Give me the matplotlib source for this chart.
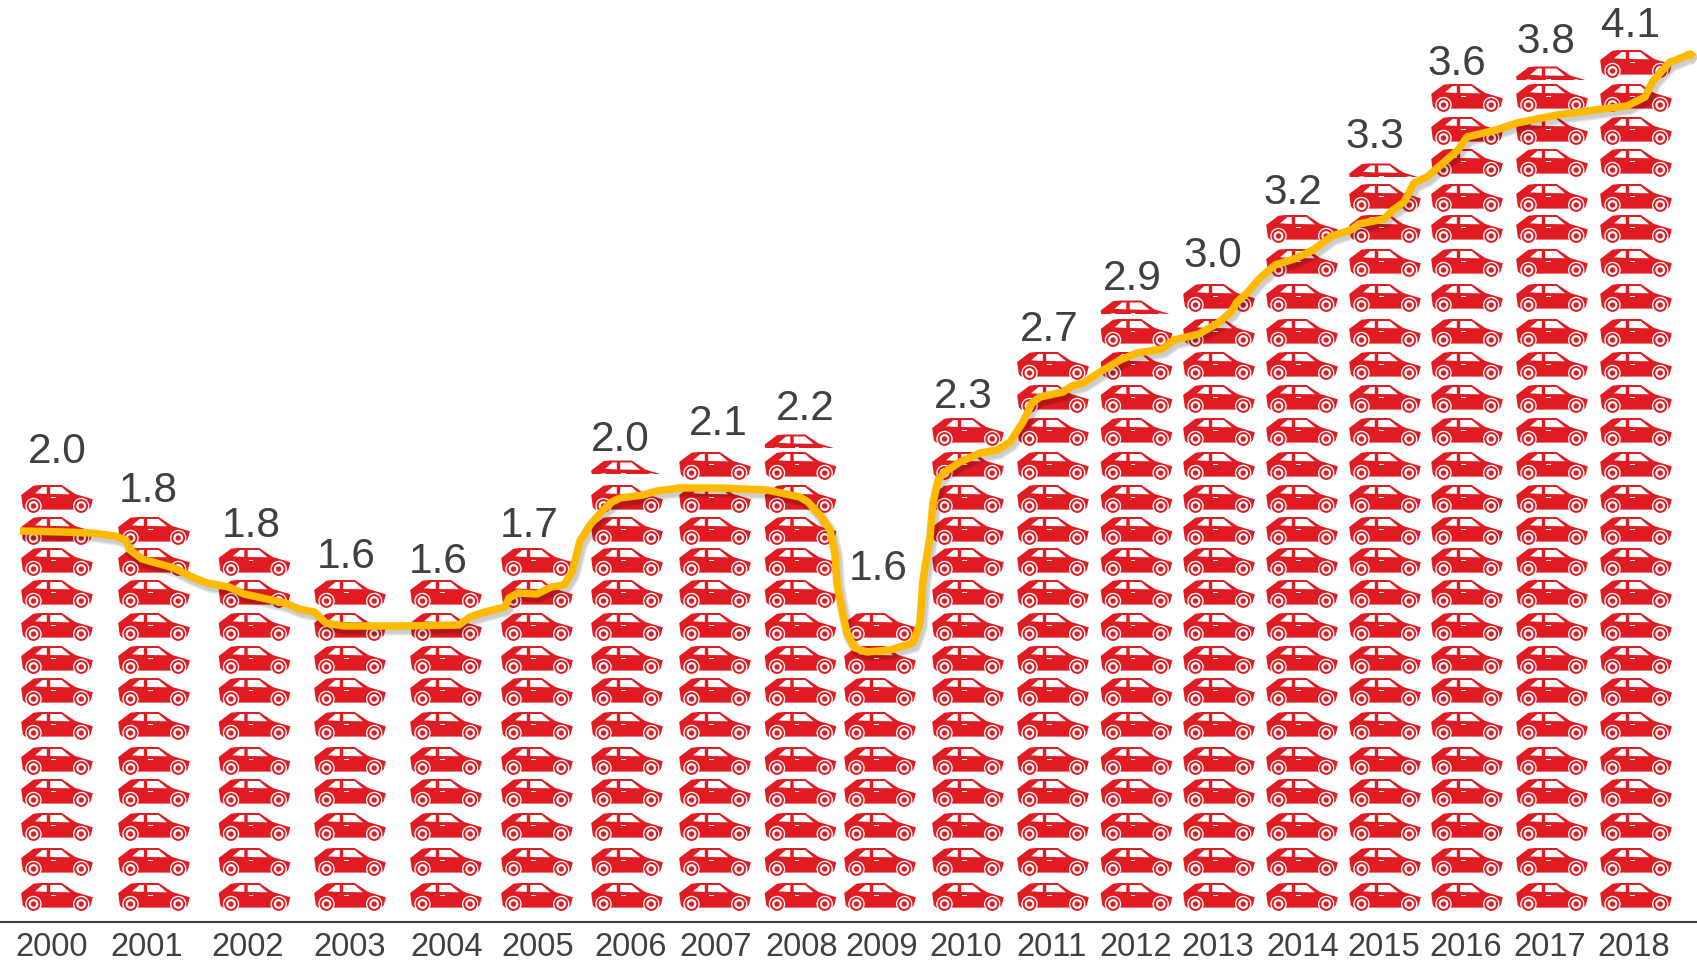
import matplotlib
matplotlib.use("Agg")
import matplotlib.pyplot as plt
import matplotlib.patheffects as pe
from matplotlib.patches import PathPatch, Rectangle
from matplotlib.path import Path
from matplotlib.transforms import Affine2D

plt.rcParams['font.family'] = ['Liberation Sans', 'DejaVu Sans']

# y axis runs downward from the top of the canvas, x axis from the left
years = [2000, 2001, 2002, 2003, 2004, 2005, 2006, 2007, 2008, 2009,
         2010, 2011, 2012, 2013, 2014, 2015, 2016, 2017, 2018]
values = ["2.0", "1.8", "1.8", "1.6", "1.6", "1.7", "2.0", "2.1", "2.2", "1.6",
          "2.3", "2.7", "2.9", "3.0", "3.2", "3.3", "3.6", "3.8", "4.1"]
# cars in each stack, .5 means a cut-off car on top
car_counts = [13, 12, 11, 10, 10, 11, 13.5, 14, 14.5, 9,
              15, 17, 18.5, 19, 21, 22.5, 25, 25.5, 26]
stack_x = [57, 154, 254.5, 350, 446, 537, 627, 715, 800.5, 880,
           968, 1053, 1136.5, 1219, 1302, 1385, 1467, 1552, 1636]
tick_x = [52, 147, 248, 350, 447, 538, 631, 716, 802, 882,
          966, 1052, 1136, 1218, 1303, 1384, 1466, 1550, 1634]
label_x = [57, 148, 251, 346, 438, 529, 620, 718, 805, 878,
           963, 1049, 1132, 1213, 1293, 1375, 1457, 1546, 1630]
label_y = [463, 502, 537, 568, 573, 537, 451, 435, 420, 580,
           408, 341, 290, 267, 204, 148, 75, 53, 37]
# top edge of each row of cars, bottom row first
row_top = [883, 848, 813, 779, 747, 712, 678, 646, 613, 580, 548, 517, 485,
           452, 418, 385, 352, 319, 284, 249, 215, 184, 149, 117, 84, 50]
partial_gap = {2006: 11, 2008: 4, 2012: 5, 2015: 7, 2017: 4}

line_x = [20, 63, 92, 115, 126, 130, 142, 174, 192, 207, 229, 244, 285, 299, 314,
          326, 344, 400, 459, 470, 485, 505, 509, 518, 537, 551, 564, 572, 580,
          590, 603, 612, 620, 643, 657, 680, 720, 767, 800, 808, 820, 830, 835, 837,
          842, 847, 855, 867, 890, 913, 920, 923, 930, 933, 938, 945, 960, 980, 997,
          1010, 1023, 1032, 1040, 1063, 1072, 1083, 1100, 1120, 1137, 1162, 1174,
          1199, 1218, 1231, 1237, 1247, 1260, 1275, 1294, 1313, 1332, 1351, 1359,
          1384, 1393, 1404, 1414, 1427, 1443, 1458, 1467, 1496, 1517, 1542, 1557,
          1595, 1627, 1645, 1653, 1670, 1676, 1690, 1694]
line_y = [531, 532, 533, 536, 540, 550, 559, 568, 577, 583, 587, 594, 603, 609, 612,
          623, 626, 626, 625, 617, 612, 607, 598, 593, 594, 587, 585, 572, 541,
          525, 510, 502, 498, 495, 491, 488, 488, 490, 497, 502, 515, 530, 553, 583,
          610, 633, 648, 652, 650, 643, 623, 580, 537, 503, 480, 472, 462, 453, 450,
          442, 422, 403, 397, 392, 386, 383, 372, 360, 353, 349, 340,
          334, 323, 312, 302, 293, 278, 265, 259, 250, 236, 230, 224,
          219, 210, 202, 183, 177, 163, 150, 137, 130, 123, 118, 115,
          110, 106, 97, 81, 62, 60, 54, 57]

red = "#E11B22"
grey = "#404040"
gold = "#FFBA00"

# car drawing, x from the car centre and y from the roof line
car_body = [(-35.8, 10), (-23.5, 0.7), (-16.8, 0), (4.8, 0), (18.2, 9), (35.8, 14.3),
            (33.8, 22.3), (31.5, 24.6), (-31.8, 24.6), (-34.2, 22.3)]
car_windows = [[(-22, 8.3), (-14.5, 2), (-10.2, 2), (-10.2, 9)],
               [(-6.8, 2), (4.6, 2), (13, 9.3), (-6.8, 9)],
               [(-5.8, 12), (-1.2, 12), (-1.2, 13.3), (-5.8, 13.3)]]
wheel_x = [-23.5, 24.2]
wheel_rings = [(8.2, "white"), (6.9, red), (4.9, "white"), (2.7, red)]


def closed(points):
    return Path(points + [points[0]], closed=True)


fig = plt.figure(figsize=(16.97, 9.61), dpi=100)
ax = fig.add_axes([0, 39 / 961, 1, 922 / 961])
ax.set_xlim(0, 1697)
ax.set_ylim(922, 0)


def draw_car(x, top, clip=None):
    shapes = [(closed(car_body), red)]
    shapes += [(closed(w), "white") for w in car_windows]
    for wx in wheel_x:
        for r, c in wheel_rings:
            shapes.append((Path.circle((wx, 21), r), c))
    move = Affine2D().translate(x, top)
    for shape, colour in shapes:
        patch = PathPatch(shape.transformed(move), fc=colour, ec="none", lw=0)
        ax.add_patch(patch)
        if clip is not None:
            patch.set_clip_path(clip)


for i, year in enumerate(years):
    whole = int(car_counts[i])
    for r in range(whole):
        draw_car(stack_x[i], row_top[r])
    if car_counts[i] != whole:
        # top half of one more car sitting on the stack
        top = row_top[whole - 1] - partial_gap[year] - 13.5
        box = Rectangle((stack_x[i] - 40, top - 1), 80, 14.5, transform=ax.transData)
        draw_car(stack_x[i], top, clip=box)
    ax.text(label_x[i], label_y[i], values[i], ha="center", va="baseline",
            fontsize=30.5, color=grey)

shadow = [pe.SimpleLineShadow(offset=(1.5, -2.5), shadow_color="black", alpha=0.07, linewidth=w)
          for w in (9, 7.5, 6)]
ax.plot(line_x, line_y, color=gold, lw=5.4, solid_joinstyle="round", solid_capstyle="butt",
        path_effects=shadow + [pe.Normal()])

for side in ("top", "left", "right"):
    ax.spines[side].set_visible(False)
ax.spines["bottom"].set_color(grey)
ax.spines["bottom"].set_linewidth(1.5)
ax.set_yticks([])
ax.set_xticks(tick_x, years)
ax.tick_params(axis="x", length=0, pad=7, labelsize=23.5, labelcolor=grey)

fig.savefig("out.png", dpi=100)
